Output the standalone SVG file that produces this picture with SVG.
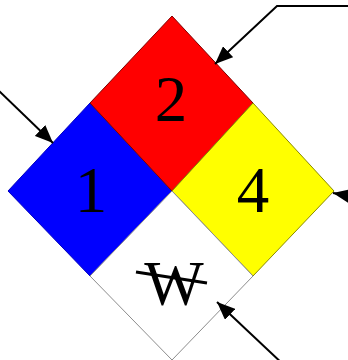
<svg xmlns="http://www.w3.org/2000/svg" width="348" height="360" viewBox="0 0 348 360">
<defs>
<marker id="ah" viewBox="0 0 18 15" refX="18" refY="7.5" markerWidth="18" markerHeight="15" markerUnits="userSpaceOnUse" orient="auto">
<path d="M0,0 L18,7.5 L0,15 z" fill="#000"/>
</marker>
<style>
.num{font-family:"Liberation Serif","Times New Roman",serif;font-size:65px;fill:#000;text-anchor:middle}
.con{fill:none;stroke:#000;stroke-width:2;marker-end:url(#ah)}
</style>
</defs>
<rect width="348" height="360" fill="#fff"/>
<g id="health">
<polygon points="8,191 90,103 172,191 90,276" fill="#0000ff" stroke="#0000c0" stroke-width="1"/>
<text class="num" x="91" y="212">1</text>
</g>
<g id="flammability">
<polygon points="172,16 253,103 172,191 90,103" fill="#ff0000" stroke="#800000" stroke-width="1"/>
<text class="num" x="171" y="121">2</text>
</g>
<g id="instability">
<polygon points="253,103 334,191 253,276 172,191" fill="#ffff00" stroke="#8a8a00" stroke-width="1"/>
<text class="num" x="253" y="212">4</text>
</g>
<g id="special">
<polygon points="172,191 253,276 172,360 90,276" fill="#ffffff" stroke="#8c8c8c" stroke-width="1"/>
<text class="num" x="174" y="305" style="font-size:63px">W</text>
<line x1="136" y1="272" x2="207" y2="283" stroke="#000" stroke-width="3"/>
</g>
<g id="connectors">
<path class="con" d="M350,6 L277,6 L215,64"/>
<path class="con" d="M-2,90 L53,143"/>
<path class="con" d="M370,200 L333,193"/>
<path class="con" d="M285,366 L217,302"/>
</g>
</svg>
